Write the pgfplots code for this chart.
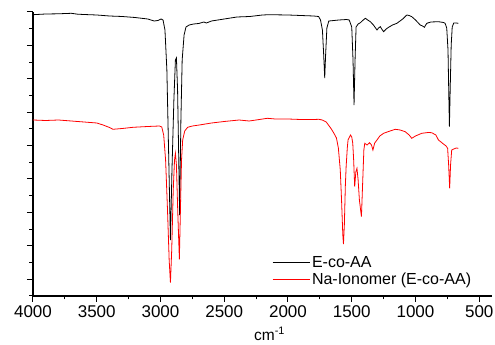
\documentclass[border=0pt]{standalone}
\usepackage{fontspec}
\setmainfont{Liberation Sans}
\usepackage{pgfplots}
\pgfplotsset{compat=1.18}
\usepackage{pgfplotstable}

\pgfplotstableread{
wn py
4000 14.7
3900 14.0
3800 13.8
3700 13.3
3650 14.2
3600 14.5
3500 15.0
3400 16.0
3300 16.5
3200 17.5
3100 19.0
3050 21.0
3020 20.5
2995 19.0
2980 20.0
2965 30
2950 70
2935 160
2922 240
2910 170
2895 100
2883 60
2875 58
2866 90
2858 150
2850 215
2840 120
2830 60
2815 35
2800 27
2775 25
2740 24
2700 23.5
2660 22
2640 23
2600 21
2500 19
2400 17
2300 16.5
2200 15
2150 14.7
2000 15
1900 15.5
1800 16
1760 16.5
1745 20
1730 30
1720 55
1712 78
1705 55
1695 28
1680 21
1600 20
1540 19.5
1520 20
1500 27
1490 60
1482 105
1474 60
1466 27
1450 24
1432 22.7
1410 20
1393 18.3
1375 20
1354 21.7
1330 25
1302 30
1290 28
1276 26.7
1265 29
1250 31.7
1230 29
1211 27.3
1180 25
1146 23.3
1100 19
1068 15
1050 15.5
1029 16.7
1000 20
963 25
945 26
930 27.3
920 25
911 23.3
880 22
820 21.7
780 22.5
768 23.3
755 28
745 50
738 100
734 126.7
728 90
720 45
712 27
700 23
680 23
664 23.3
}\blackdata

\pgfplotstableread{
wn py
4000 120
3900 120.5
3800 120
3700 121
3600 122
3500 123
3450 125
3400 127.5
3373 129.3
3300 128.5
3216 127.3
3100 126.5
3008 126
2990 127
2975 135
2960 160
2945 210
2932 260
2922 282.7
2912 250
2900 190
2890 160
2883 153.3
2875 165
2865 210
2852 259.3
2842 200
2835 160
2826 140
2810 131
2787 127.3
2750 126
2695 125
2600 123
2500 121.5
2383 120
2305 121
2250 120
2162 118.3
2100 119
2000 119
1900 119.5
1800 119.5
1758 119.3
1732 120
1700 122
1680 125.5
1660 129
1641 133
1620 138
1605 148
1590 170
1580 200
1570 235
1565 244
1558 225
1550 185
1544 166.7
1535 148
1529 140
1510 135
1500 137
1492 143.3
1485 160
1477 186.7
1468 172
1459 168.3
1450 180
1440 200
1424 216.7
1415 185
1405 150
1398 143.3
1380 145
1360 142.7
1345 145
1334 150
1320 143
1302 140
1280 136
1250 133.3
1200 131
1159 129.3
1120 130
1081 131.7
1050 135
1029 138.3
1000 136
951 133.3
900 132.5
873 132.7
840 135
820 140
800 142
781 144
760 146
748 148.3
740 165
732 188.3
725 165
716 150
700 149
680 148
664 148.3
}\reddata

\begin{document}
\begin{tikzpicture}
\begin{axis}[
  scale only axis,
  width=459pt, height=284pt,
  x dir=reverse,
  xmin=400, xmax=4000,
  ymin=0, ymax=284,
  axis x line*=bottom, axis y line*=left,
  x axis line style={-, line width=1.2pt},
  y axis line style={-, line width=1.2pt},
  xtick={500,1000,...,4000},
  minor x tick num=1,
  ytick={16.8,50.2,83.6,117,150.4,183.8,217.2,250.6,284},
  minor ytick={0,33.4,66.8,100.2,133.6,167,200.4,233.8,267.2},
  yticklabels={},
  tick align=outside,
  major tick length=6pt, minor tick length=3.5pt,
  every tick/.style={black, line width=1pt},
  /pgf/number format/assume math mode=true,
  /pgf/number format/set thousands separator={},
  tick label style={font=\fontsize{17}{18}\selectfont},
  xlabel={cm\textsuperscript{-1}},
  xlabel style={font=\fontsize{15.5}{17}\selectfont, yshift=-3pt, xshift=7pt},
  legend style={at={(0.5207,0.148)}, anchor=north west, draw=none, fill=none,
    font=\fontsize{16}{17.6}\selectfont, inner sep=0pt, row sep=0pt},
  legend cell align=left,
  legend image code/.code={\draw[#1] (0pt,0pt) -- (37pt,0pt);},
  clip=false,
]
\addplot[black, line width=0.8pt] table[x=wn, y expr=296-\thisrow{py}] {\blackdata};
\addlegendentry{E-co-AA}
\addplot[red, line width=0.8pt] table[x=wn, y expr=296-\thisrow{py}] {\reddata};
\addlegendentry{Na-Ionomer (E-co-AA)}
\coordinate (bl) at (rel axis cs:0,0);
\end{axis}
\pgfresetboundingbox
\path[use as bounding box] (bl) ++(-33pt,-49pt) rectangle ++(495pt,345pt);
\end{tikzpicture}
\end{document}
